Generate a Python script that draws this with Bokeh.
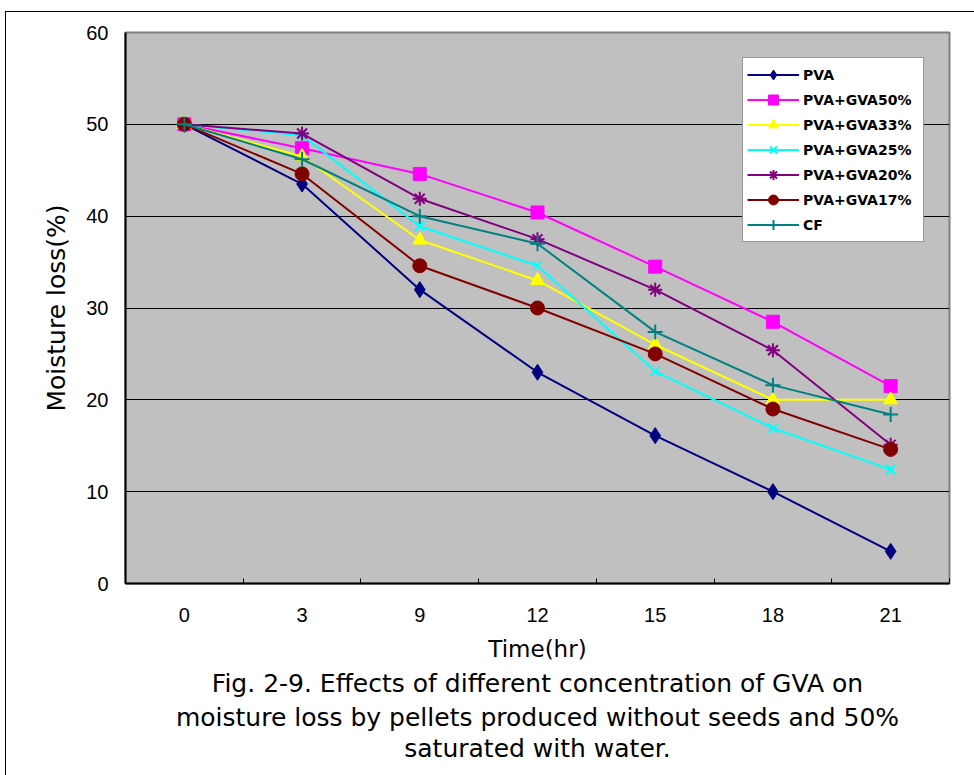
import numpy as np
from bokeh.plotting import figure
from bokeh.models import FixedTicker, Legend, LegendItem, Title
from bokeh.embed import file_html
from bokeh.resources import INLINE

# ---- data ----
times = ["0", "3", "9", "12", "15", "18", "21"]
pva = [50, 43.5, 32.0, 23.0, 16.1, 10.0, 3.5]
gva50 = [50, 47.4, 44.6, 40.4, 34.5, 28.5, 21.5]
gva33 = [50, 46.5, 37.4, 33.0, 26.0, 20.0, 20.0]
gva25 = [50, 48.8, 38.9, 34.6, 23.1, 16.9, 12.4]
gva20 = [50, 49.0, 41.9, 37.5, 32.0, 25.4, 15.1]
gva17 = [50, 44.6, 34.6, 30.0, 25.0, 19.0, 14.6]
cf = [50, 46.2, 40.0, 37.0, 27.4, 21.6, 18.4]
y_ticks = [0, 10, 20, 30, 40, 50, 60]
series_names = ["PVA", "PVA+GVA50%", "PVA+GVA33%", "PVA+GVA25%", "PVA+GVA20%", "PVA+GVA17%", "CF"]
caption = ["Fig. 2-9. Effects of different concentration of GVA on",
           "moisture loss by pellets produced without seeds and 50%",
           "saturated with water."]

xs = list(range(len(times)))

p = figure(width=969, height=764, output_backend="svg", toolbar_location=None,
           x_range=(-0.5, len(times) - 0.5), y_range=(0, 60),
           min_border_left=119, min_border_right=26, min_border_top=20, min_border_bottom=193,
           background_fill_color="#C0C0C0", border_fill_color="white")
p.styles = {"margin-left": "5px", "margin-top": "11px",
            "border-left": "1px solid #000", "border-top": "1px solid #000"}
p.outline_line_color = "#808080"
p.outline_line_width = 2

# axes
p.xaxis.ticker = FixedTicker(ticks=xs, minor_ticks=[i - 0.5 for i in range(len(times) + 1)])
p.xaxis.major_label_overrides = {i: t for i, t in enumerate(times)}
p.xaxis.major_tick_in = 0
p.xaxis.major_tick_out = 0
p.xaxis.minor_tick_in = 5
p.xaxis.minor_tick_out = 0
p.xaxis.minor_tick_line_color = "black"
p.xaxis.axis_line_color = "black"
p.xaxis.axis_line_width = 2
p.xaxis.major_label_text_font = "Liberation Sans"
p.xaxis.major_label_text_font_size = "20px"
p.xaxis.major_label_text_color = "black"
p.xaxis.major_label_standoff = 24
p.xaxis.axis_label = "Time(hr)"
p.xaxis.axis_label_text_font = "DejaVu Sans"
p.xaxis.axis_label_text_font_size = "23px"
p.xaxis.axis_label_text_font_style = "normal"
p.xaxis.axis_label_text_color = "black"
p.xaxis.axis_label_standoff = 11

p.yaxis.ticker = FixedTicker(ticks=y_ticks)
p.yaxis.major_tick_in = 0
p.yaxis.major_tick_out = 0
p.yaxis.minor_tick_line_color = None
p.yaxis.axis_line_color = "black"
p.yaxis.axis_line_width = 2
p.yaxis.major_label_text_font = "Liberation Sans"
p.yaxis.major_label_text_font_size = "20px"
p.yaxis.major_label_text_color = "black"
p.yaxis.major_label_standoff = 17
p.yaxis.axis_label = "Moisture loss(%)"
p.yaxis.axis_label_text_font = "DejaVu Sans"
p.yaxis.axis_label_text_font_size = "25px"
p.yaxis.axis_label_text_font_style = "normal"
p.yaxis.axis_label_text_color = "black"
p.yaxis.axis_label_standoff = 12

p.xgrid.grid_line_color = None
p.ygrid.grid_line_color = "black"
p.ygrid.grid_line_width = 1
p.ygrid.ticker = FixedTicker(ticks=y_ticks[1:-1])

styles = [
    (pva, "#000080", "diamond", 16, 1),
    (gva50, "#FF00FF", "square", 13, 1),
    (gva33, "#FFFF00", "triangle", 14, 1),
    (gva25, "#00FFFF", "x", 13, 2),
    (gva20, "#800080", "asterisk", 14, 2),
    (gva17, "#800000", "circle", 14, 1),
    (cf, "#008080", "cross", 15, 2),
]

items = []
for name, (ys, col, mk, sz, lw) in zip(series_names, styles):
    r1 = p.line(xs, ys, line_color=col, line_width=2)
    r2 = p.scatter(xs, ys, marker=mk, size=sz, fill_color=col,
                   line_color=col, line_width=lw)
    items.append(LegendItem(label=name, renderers=[r1, r2]))

legend = Legend(items=items, location="top_right", margin=25,
                background_fill_color="white", background_fill_alpha=1.0,
                border_line_color="#333333", border_line_width=1,
                label_text_font="DejaVu Sans", label_text_font_size="14px",
                label_text_font_style="bold", label_text_color="black",
                glyph_width=52, glyph_height=25,
                label_height=25, label_width=116, spacing=0, padding=4,
                label_standoff=4)
p.add_layout(legend)

for i, line in enumerate(caption):
    t = Title(text=line, align="center", text_font="DejaVu Sans",
              text_font_size="25px", text_font_style="normal", text_color="black",
              standoff=5 if i == 0 else 0)
    p.add_layout(t, "below")

open("out.html", "w").write(file_html(p, INLINE))
